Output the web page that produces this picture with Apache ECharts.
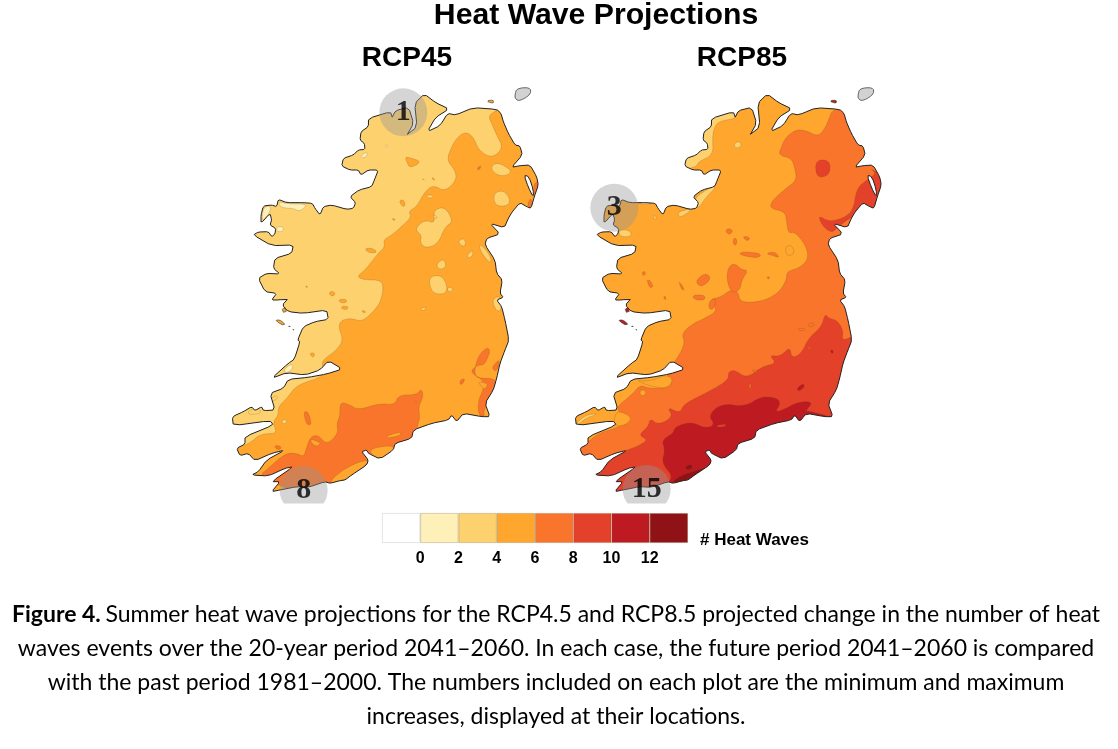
<!DOCTYPE html>
<html>
<head>
<meta charset="utf-8">
<title>Heat Wave Projections</title>
<script src="https://cdn.jsdelivr.net/npm/echarts@6/dist/echarts.min.js"></script>
<style>
html,body{margin:0;padding:0;background:#fff}
#chart{width:1118px;height:749px}
</style>
</head>
<body>
<div id="chart"></div>
<script>
// map units are 1/3 px, flat x,y lists
var coast=[140,497,85,465,100,456,130,455,140,470,150,462,152,445,135,435,140,420,135,400,108,430,108,405,115,378,140,375,155,380,160,358,185,368,235,368,262,370,270,385,285,405,295,380,320,375,365,388,385,385,392,368,375,350,402,330,440,320,448,300,460,270,430,270,408,285,400,270,375,270,350,258,355,235,385,225,400,210,420,208,418,190,405,180,408,155,430,140,431,115,496,95,503,115,511,92,551,82,566,130,543,170,576,140,569,70,598,42,632,68,672,87,632,112,607,155,645,137,668,100,692,105,745,83,815,88,828,100,835,125,850,160,870,195,885,198,892,225,860,262,885,257,915,255,935,290,940,315,928,350,918,385,905,380,885,368,862,395,850,415,838,443,795,430,825,462,785,475,780,495,810,540,815,580,832,600,825,640,835,652,815,660,830,680,840,720,852,780,840,810,825,850,815,895,805,930,780,970,795,1010,770,1010,715,1000,695,1025,680,1005,670,1020,620,1030,565,1050,560,1075,510,1090,505,1110,465,1137,430,1120,425,1110,410,1115,430,1140,425,1155,380,1185,360,1200,345,1202,315,1210,300,1205,250,1222,215,1220,165,1230,140,1235,165,1205,140,1205,205,1160,180,1165,130,1188,80,1185,100,1175,125,1140,180,1110,140,1120,90,1142,70,1120,45,1127,35,1105,60,1092,60,1070,145,1035,135,1022,25,1037,22,1010,55,995,80,980,90,992,110,980,115,992,150,990,135,940,175,925,190,898,250,892,305,882,352,867,310,842,285,870,240,885,185,878,140,895,190,850,208,838,225,785,218,780,235,740,270,725,310,718,305,690,235,700,190,695,172,675,190,655,160,660,140,660,155,640,120,635,100,595,125,580,165,582,145,565,150,535,200,520,205,495];
var lough=[897,285,912,290,925,330,925,352,910,322];
var islands=[[785,62,805,60,805,70,790,66],[152,720,165,720,180,732,175,736,160,728],[190,738,196,738,195,744],[203,747,208,747,205,752],[172,685,184,685,184,697,172,697]];
var scotland=[870,45,875,25,915,22,918,40,900,55,880,63,870,55];

// contour bands, value = band's lower edge
var binColors=['#ffffff','#fdf0b8','#fed16f','#fea62e','#f9752b','#e3412a','#bd1b21','#8e1216'];
var binLow=[-2,0,2,4,6,8,10,12];

var left_base=[-10,5,955,5,955,1285,-10,1285];
var left_46=[[790,108,815,90,900,60,955,300,955,500,920,800,920,1050,500,1285,-10,1285,-10,1100,40,1100,75,1090,105,1062,155,1060,150,1045,145,1025,160,1005,160,980,190,950,215,915,300,888,290,850,300,835,335,810,355,780,340,740,350,720,380,715,410,725,440,700,465,670,475,630,470,600,420,600,395,590,420,570,440,545,460,520,480,500,475,480,500,465,530,440,560,410,550,395,575,380,600,335,625,315,660,335,695,300,690,270,665,240,680,200,695,175,720,155,745,170,760,210,800,235,835,205,815,165,800,130],
[540,230,560,235,590,245,555,265,545,245],[418,505,445,505,458,518,430,518],[522,360,538,360,540,380,530,378],[620,290,632,300,625,302],[590,297,600,298,598,302],[500,415,515,418,505,422],[310,640,322,632,332,642,322,650],[340,658,365,658,365,668,345,668],[350,678,372,680,365,690,348,685],[410,690,425,695,415,700],[252,820,270,818,265,835],[240,618,248,618,246,625]];
var left_24=[[805,340,835,330,855,355,850,378,810,378],[795,265,815,245,860,270,850,285,820,288],[575,440,600,420,630,430,625,390,660,380,685,425,660,440,640,490,605,505,585,490,590,465,575,455],[700,480,720,475,722,500,705,495],[632,555,655,535,665,560,645,570],[610,590,650,585,668,620,660,643,620,640],[760,490,785,510,800,540,795,550,770,520],[730,520,745,510,742,530,725,535],[668,620,685,625,680,635,668,635],[605,345,625,345,622,355,605,352],[625,400,640,415,625,415],[800,660,825,645,830,690,815,695],[585,685,605,680,595,695],[170,1020,185,1018,185,1030,172,1032],[70,990,100,985,110,1000,70,1005],[130,960,155,945,160,955,140,965]];
var left_02=[[160,365,190,372,250,372,225,395,205,385,185,385,165,380],[155,440,175,440,175,455,155,455],[115,380,140,378,130,405,110,425],[405,230,425,215,428,225,415,235],[480,195,488,195,485,205],[175,870,200,850,205,865,185,880]];
var left_68=[[345,965,375,975,400,990,465,970,510,975,520,945,575,945,590,925,595,950,580,980,585,1015,575,1040,570,1130,430,1230,250,1250,100,1190,130,1165,180,1120,215,1120,235,1130,240,1120,255,1070,280,1065,305,1095,340,1060,335,1030,345,1010],[235,995,250,995,260,1035,245,1035],[150,1095,170,1100,165,1110,150,1105],[760,825,790,800,795,815,785,840,775,855,760,855,745,865,738,875,760,895,800,895,815,905,810,930,790,960,775,995,780,1010,760,1005,760,960,775,930,775,900,745,885],[800,865,815,845,825,840,815,875],[705,900,720,895,715,910,705,915],[755,265,770,255,762,272],[905,375,920,350,925,390],[925,310,950,300,945,350,928,352]];
var left_46_top=[[440,1105,500,1095,520,1115,465,1145,435,1120],[480,1070,525,1055,530,1065,490,1075],[310,1210,345,1175,400,1145,440,1140,380,1190,345,1205],[255,1075,290,1090,275,1100,260,1090],[570,960,575,960,572,975],[760,905,790,910,780,930,765,915]];

var right_base=[-5,5,990,5,990,1285,-5,1285];
var right_24=[[425,140,440,110,510,92,515,115,470,122,450,135,442,170,445,225,400,245,395,260,350,270,345,230,395,215,415,205,405,175],[507,190,525,183,530,200,510,205],[390,360,400,345,440,320,455,320,420,355,405,380,385,385],[340,395,385,385,355,408,340,410],[265,405,275,410,270,425],[160,450,195,450,200,470,165,470],[215,365,270,370,235,375],[810,660,830,650,835,685,825,685],[30,1035,60,1005,105,1000,60,1015,35,1040],[110,630,140,625,125,640],[100,640,130,630,125,650,100,650]];
var right_68=[[800,95,820,85,950,60,988,300,985,600,960,900,950,1050,600,1285,-5,1285,5,1100,30,1090,65,1090,100,1060,150,1045,185,1030,195,1015,165,1000,155,980,200,945,225,915,250,925,310,925,325,900,300,885,340,830,360,790,350,760,385,730,420,715,460,690,430,660,470,650,495,630,520,635,525,668,590,665,640,640,665,600,665,575,700,565,730,540,725,500,690,455,670,460,665,425,660,395,615,385,620,365,640,345,670,320,695,300,690,265,680,235,640,225,650,200,660,175,690,150,720,150,760,170,780,145,795,110],
[490,560,510,550,530,570,550,570,530,600,525,630,500,640,485,600],[390,605,420,578,440,595,410,622],[245,600,255,600,265,620,255,625],[340,600,360,630,350,630],[230,575,245,575,235,590],[525,515,590,520,580,535,525,525],[600,520,630,515,645,535,620,525],[505,475,515,475,515,495,505,495],[530,470,555,470,550,485],[380,645,420,645,420,660,390,660],[435,660,455,655,445,690,430,685],[295,648,303,650,300,665],[605,590,615,590,610,600],[480,450,495,445,505,455,490,465]];
var right_46_top=[[225,930,243,930,240,948,225,945],[443,925,465,915,455,950,445,945],[660,500,680,495,690,520,665,530],[550,920,560,905,555,930],[155,990,200,1010,190,1030,160,1040,145,1030],[210,900,260,920,310,925,325,895,300,885,250,905]];
var right_810=[[750,240,795,240,795,285,755,295],[875,325,905,300,935,280,910,262,975,300,960,395,900,390,860,410,820,440,800,460,770,435,760,405,790,425,835,415,865,390],[880,760,830,785,835,750,815,720,790,715,780,700,770,740,730,775,710,820,680,835,675,800,645,830,612,825,635,850,590,860,545,895,510,870,490,875,490,900,440,930,390,955,355,975,345,1000,305,980,325,1010,280,1035,255,1015,250,1040,220,1065,250,1080,215,1100,185,1110,130,1145,90,1180,60,1230,0,1285,600,1285,950,1060,985,780]];
var right_68_top=[[700,745,720,745,718,752,700,752],[730,730,748,728,745,740,730,740],[725,805,740,800,735,808],[555,870,578,870,575,878],[550,920,560,905,555,930]];
var right_1012=[[430,1005,470,970,540,980,590,948,640,955,645,975,630,995,650,992,700,965,745,965,720,995,705,1040,560,1130,500,1170,430,1200,330,1240,300,1215,325,1190,290,1150,300,1110,290,1080,325,1060,330,1040,380,1025,420,1045,450,1035],[695,925,715,910,720,920,700,935],[795,810,805,810,803,825],[715,990,760,1000,810,1015,780,1030,720,1020]];
var right_810_top=[[455,1035,485,1032,480,1040,455,1042]];
var right_12=[[315,1210,350,1185,400,1170,432,1160,385,1190,350,1207],[360,1160,380,1152,382,1165,365,1170]];

// extremes: x, y, value
var left_marks=[[535,97,1],[236,1230,8]];
var right_marks=[[148,383,3],[245,1227,15]];

var legendTicks=[0,2,4,6,8,10,12];
var legendBins=[-2,2,2,2,2,2,2,2];

var captionLines=[
    'Summer heat wave projections for the RCP4.5 and RCP8.5 projected change in the number of heat',
    'waves events over the 20-year period 2041\u20132060. In each case, the future period 2041\u20132060 is compared',
    'with the past period 1981\u20132000. The numbers included on each plot are the minimum and maximum',
    'increases, displayed at their locations.'
];

// rounds the corners of a closed outline, contours in the figure are soft
function soften(pts,times,t){
    for(var n=0;n<times;n++){
        var out=[];
        for(var i=0;i<pts.length;i++){
            var a=pts[i],b=pts[(i+1)%pts.length];
            out.push([a[0]+(b[0]-a[0])*t,a[1]+(b[1]-a[1])*t]);
            out.push([a[0]+(b[0]-a[0])*(1-t),a[1]+(b[1]-a[1])*(1-t)]);
        }
        pts=out;
    }
    return pts;
}
function ring(flat,dx,times,t){
    var pts=[];
    for(var i=0;i<flat.length;i+=2){pts.push([flat[i]+(dx||0),flat[i+1]]);}
    if(times){pts=soften(pts,times,t);}
    pts.push(pts[0]);
    return pts;
}
function colorOf(low){return binColors[binLow.indexOf(low)];}

// painter order: base, bands, then the sea mask clips them to the coast
function buildMap(name,base,layers,maskBox,dx,islandLow){
    var features=[],regions=[];
    var shore=ring(coast,dx,1,0.18);
    function add(n,rings,style){
        features.push({type:'Feature',properties:{name:n},geometry:{type:'Polygon',coordinates:rings}});
        regions.push({name:n,itemStyle:style,silent:true});
    }
    add('base',[ring(base[1])],{areaColor:colorOf(base[0]),borderWidth:0});
    layers.forEach(function(layer,k){
        layer[1].forEach(function(poly,j){
            add('band'+k+'_'+j,[ring(poly,0,2,0.25)],{areaColor:colorOf(layer[0]),borderColor:'rgba(110,70,20,0.4)',borderWidth:0.5});
        });
    });
    var x0=maskBox[0],x1=maskBox[1];
    add('sea',[[[x0,0],[x0,1290],[x1,1290],[x1,0],[x0,0]],shore],{areaColor:'#fff',borderWidth:0});
    add('coast',[shore],{areaColor:'rgba(0,0,0,0)',borderColor:'#222',borderWidth:1});
    add('lough',[ring(lough,dx,1,0.25)],{areaColor:'#fff',borderColor:'#222',borderWidth:1});
    islands.forEach(function(p,j){
        add('island'+j,[ring(p,dx,1,0.25)],{areaColor:colorOf(islandLow),borderColor:'#333',borderWidth:0.6});
    });
    add('scotland',[ring(scotland,dx,2,0.25)],{areaColor:'#d2d2d2',borderColor:'#444',borderWidth:0.8});
    echarts.registerMap(name,{type:'FeatureCollection',features:features});
    return regions;
}

var left_layers=[[4,left_46],[2,left_24],[0,left_02],[6,left_68],[4,left_46_top]];
var right_layers=[[2,right_24],[6,right_68],[4,right_46_top],[8,right_810],[6,right_68_top],[10,right_1012],[8,right_810_top],[12,right_12]];
var left_regions=buildMap('rcp45',[2,left_base],left_layers,[-15,965],0,4);
var right_regions=buildMap('rcp85',[4,right_base],right_layers,[-10,1000],9,10);

function geoOpt(map,regions,cx){
    return {
        map:map,
        roam:false,
        silent:true,
        projection:{project:function(c){return c;},unproject:function(c){return c;}},
        boundingCoords:[[-135,0],[1155,1290]],
        layoutCenter:[cx,295],
        layoutSize:430,
        label:{show:false},
        itemStyle:{areaColor:'#fff',borderWidth:0},
        emphasis:{disabled:true},
        select:{disabled:true},
        regions:regions
    };
}
function markSeries(idx,marks){
    return {
        type:'scatter',
        coordinateSystem:'geo',
        geoIndex:idx,
        data:marks,
        symbolSize:48,
        z:5,
        silent:true,
        itemStyle:{color:'rgba(150,150,150,0.5)'},
        label:{show:true,position:'inside',formatter:function(p){return p.value[2];},
            fontFamily:'Liberation Serif',fontWeight:'bold',fontSize:30,color:'#000'}
    };
}

var legendSeries=legendBins.map(function(v,i){
    return {
        type:'bar',
        stack:'bins',
        xAxisIndex:0,
        yAxisIndex:0,
        data:[v],
        barWidth:'100%',
        silent:true,
        itemStyle:{color:binColors[i],borderColor:i==0?'#ddd':'rgba(120,90,40,0.35)',borderWidth:0.8}
    };
});

var chart=echarts.init(document.getElementById('chart'));
chart.setOption({
    animation:false,
    backgroundColor:'#fff',
    textStyle:{fontFamily:'Liberation Sans'},
    title:[
        {text:'Heat Wave Projections',left:591,top:-4,textAlign:'center',textStyle:{fontSize:30.2,fontWeight:'bold',color:'#000',fontFamily:'Liberation Sans'}},
        {text:'RCP45',left:402,top:39,textAlign:'center',textStyle:{fontSize:28,fontWeight:'bold',color:'#000',fontFamily:'Liberation Sans'}},
        {text:'RCP85',left:737,top:39,textAlign:'center',textStyle:{fontSize:28,fontWeight:'bold',color:'#000',fontFamily:'Liberation Sans'}},
        {text:'# Heat Waves',left:695,top:527,textStyle:{fontSize:17,fontWeight:'bold',color:'#000',fontFamily:'Liberation Sans'}},
        {
            text:'{b|Figure 4.} {n|'+captionLines[0]+'}\n{n|'+captionLines[1]+'}\n{n|'+captionLines[2]+'}\n{n|'+captionLines[3]+'}',
            left:551,top:592,textAlign:'center',
            textStyle:{
                fontFamily:'Lato',fontWeight:'normal',lineHeight:34.3,align:'center',
                rich:{
                    b:{fontFamily:'Lato',fontWeight:'bold',fontSize:23,lineHeight:34.3,color:'#000'},
                    n:{fontFamily:'Lato',fontWeight:'normal',fontSize:23,lineHeight:34.3,color:'#000'}
                }
            }
        }
    ],
    geo:[geoOpt('rcp45',left_regions,395),geoOpt('rcp85',right_regions,735)],
    grid:{left:382,top:513,width:306,height:30,containLabel:false},
    xAxis:{
        type:'value',min:-2,max:14,interval:2,
        axisLine:{show:false},axisTick:{show:false},splitLine:{show:false},
        axisLabel:{
            margin:8,fontSize:16,fontWeight:'bold',color:'#000',fontFamily:'Liberation Sans',
            formatter:function(v){return legendTicks.indexOf(v)>=0?String(v):'';}
        }
    },
    yAxis:{type:'category',data:['bins'],show:false},
    series:[markSeries(0,left_marks),markSeries(1,right_marks)].concat(legendSeries),
    graphic:[
        // the plot frame cuts the lower circles off
        {type:'rect',left:270,top:503.5,shape:{width:70,height:12},style:{fill:'#fff'},z:50,silent:true},
        {type:'rect',left:610,top:503.5,shape:{width:70,height:9.5},style:{fill:'#fff'},z:50,silent:true}
    ]
});
</script>
</body>
</html>
